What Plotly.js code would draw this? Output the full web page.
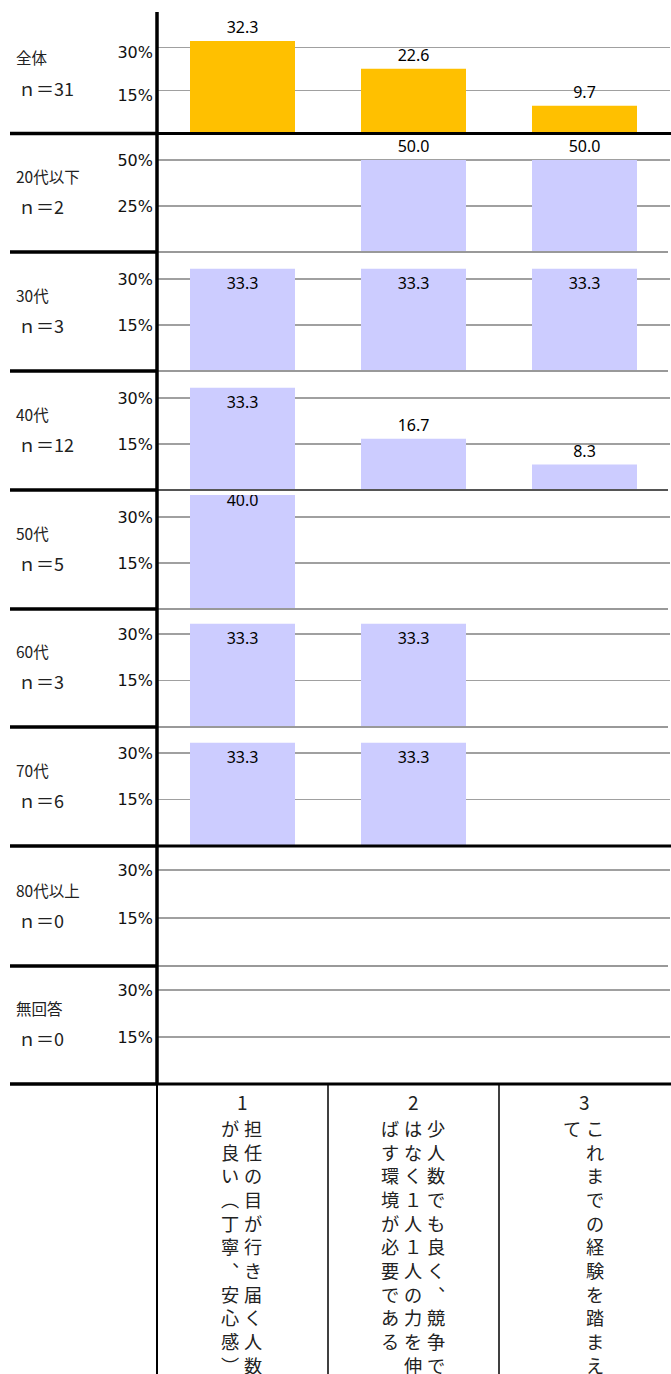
<!DOCTYPE html>
<html><head><meta charset="utf-8">
<script src="https://cdn.plot.ly/plotly-3.0.1.min.js"></script>
<style>html,body{margin:0;padding:0;background:#fff;}</style>
</head><body>
<div id="chart" style="width:671px;height:1374px;"></div>
<script>
// ---------------- data ----------------
const categories = ['1', '2', '3'];
const categoryLabels = [
  '担任の目が行き届く人数が良い（丁寧、安心感）',
  '少人数でも良く、競争ではなく１人１人の力を伸ばす環境が必要である',
  'これまでの経験を踏まえて'
];
const groups = ['全体', '20代以下', '30代', '40代', '50代', '60代', '70代', '80代以上', '無回答'];
const groupN = [31, 2, 3, 12, 5, 3, 6, 0, 0];

const valuesAll   = [32.3, 22.6, 9.7];
const values20s   = [null, 50.0, 50.0];
const values30s   = [33.3, 33.3, 33.3];
const values40s   = [33.3, 16.7, 8.3];
const values50s   = [40.0, null, null];
const values60s   = [33.3, 33.3, null];
const values70s   = [33.3, 33.3, null];
const values80s   = [null, null, null];
const valuesNoAns = [null, null, null];
const seriesValues = [valuesAll, values20s, values30s, values40s, values50s, values60s, values70s, values80s, valuesNoAns];

const tickSets = [[15, 30], [25, 50], [15, 30], [15, 30], [15, 30], [15, 30], [15, 30], [15, 30], [15, 30]];

// ---------------- layout / style ----------------
const W = 671, H = 1374;
const panelBottom = [133.5, 252, 371, 490, 609, 727, 846, 966, 1084];
const panelTop    = [12, 139, 257, 376, 495, 613, 732, 851, 970];
const pxPerPct    = [2.867, 1.84, 3.067, 3.067, 3.067, 3.1, 3.1, 3.2, 3.13];
const tickShift   = [5, 0, 0, 0, 0, 0, 0, 0, 0];
const O = 'outside', I = 'inside';
const textPos = [[O,O,O],[O,O,O],[I,I,I],[I,O,O],[I,I,I],[I,I,I],[I,I,I],[O,O,O],[O,O,O]];
const baseColor = ['#000000', '#999999', '#999999', '#555555', '#999999', '#999999', '#000000', '#999999', '#000000'];
const plotLeft = 157, plotRight = 670;
const py = p => 1 - p / H;
const px = p => p / W;

const traces = [];
const layout = {
  width: W, height: H,
  margin: {l: 0, r: 0, t: 0, b: 0},
  paper_bgcolor: '#ffffff', plot_bgcolor: 'rgba(0,0,0,0)',
  showlegend: false,
  bargap: 0.386,
  font: {family: 'Noto Sans CJK JP', color: '#111'},
  xaxis: {domain: [px(plotLeft), px(plotRight)], type: 'category', categoryorder: 'array',
          categoryarray: categories, range: [-0.5, categories.length - 0.5], autorange: false,
          visible: false, anchor: 'y9', fixedrange: true},
  shapes: [], annotations: []
};

groups.forEach((g, i) => {
  const yName = 'y' + (i === 0 ? '' : (i + 1));
  const axKey = 'yaxis' + (i === 0 ? '' : (i + 1));
  const vals = seriesValues[i];
  traces.push({
    type: 'bar', x: categories, y: vals, xaxis: 'x', yaxis: yName,
    marker: {color: i === 0 ? '#FFC000' : '#CCCCFF', line: {width: 0}},
    text: vals.map(v => (v === null || v === 0) ? '' : v.toFixed(1)),
    textposition: textPos[i],
    insidetextanchor: 'end',
    textfont: {family: 'Noto Sans', size: 16, color: '#000'},
    insidetextfont: {family: 'Noto Sans', size: 16, color: '#000'},
    outsidetextfont: {family: 'Noto Sans', size: 16, color: '#000'},
    constraintext: 'none',
    hoverinfo: 'none'
  });
  layout[axKey] = {
    domain: [py(panelBottom[i]), py(panelTop[i])],
    range: [0, (panelBottom[i] - panelTop[i]) / pxPerPct[i]],
    anchor: 'x',
    tickvals: tickSets[i], ticktext: tickSets[i].map(t => t + '%'),
    ticks: '', ticklabelstandoff: 3, ticklabelshift: tickShift[i],
    tickfont: {family: 'DejaVu Sans', size: 16, color: '#111'},
    showgrid: true, gridcolor: '#a0a0a0', gridwidth: 1.6,
    zeroline: false, showline: false, fixedrange: true
  };
  layout.shapes.push({type: 'line', xref: 'paper', yref: 'paper',
    x0: px(10), x1: px(plotLeft), y0: py(panelBottom[i]), y1: py(panelBottom[i]),
    line: {color: '#000', width: 3.5}});
  const dark = baseColor[i] === '#000000';
  layout.shapes.push({type: 'line', xref: 'paper', yref: 'paper',
    x0: px(plotLeft), x1: dark ? 1 : px(668), y0: py(panelBottom[i]), y1: py(panelBottom[i]),
    line: {color: baseColor[i], width: dark ? 3 : 2}});
  layout.annotations.push({xref: 'paper', yref: 'paper', x: px(14), y: py(panelBottom[i] - 76),
    xanchor: 'left', yanchor: 'middle', showarrow: false, text: g,
    font: {family: 'Noto Sans CJK JP', size: 15.5, color: '#222'}});
  layout.annotations.push({xref: 'paper', yref: 'paper', x: px(16), y: py(panelBottom[i] - 46),
    xanchor: 'left', yanchor: 'middle', showarrow: false, text: 'ｎ＝' + groupN[i],
    font: {family: 'Noto Sans CJK JP', size: 18, color: '#222'}});
});

layout.shapes.push({type: 'line', xref: 'paper', yref: 'paper', x0: px(plotLeft), x1: px(plotLeft),
  y0: py(12), y1: py(1084), line: {color: '#000', width: 3.5}});
layout.shapes.push({type: 'line', xref: 'paper', yref: 'paper', x0: px(plotLeft), x1: px(plotLeft),
  y0: py(1084), y1: 0, line: {color: '#000', width: 2}});
[0.5, 1.5].forEach(xv => layout.shapes.push({type: 'line', xref: 'x', yref: 'paper', x0: xv, x1: xv,
  y0: py(1084), y1: 0, line: {color: '#000', width: 1.5}}));

// category labels (vertical writing)
const vertMap = {'（': '︵', '）': '︶', '、': '︑'};
const perCol = 11, colPitch = 23, charSize = 18.2;
categories.forEach((c, k) => {
  layout.annotations.push({xref: 'x', yref: 'paper', x: k, y: py(1101.5), xshift: 0,
    xanchor: 'center', yanchor: 'middle', showarrow: false, text: c,
    font: {family: 'Noto Sans CJK JP', size: 19, color: '#222'}});
  const chars = Array.from(categoryLabels[k]).map(ch => vertMap[ch] || ch);
  const cols = [];
  for (let s = 0; s < chars.length; s += perCol) cols.push(chars.slice(s, s + perCol));
  const n = cols.length;
  cols.forEach((col, j) => {
    layout.annotations.push({xref: 'x', yref: 'paper', x: k,
      xshift: ((n - 1) / 2 - j) * colPitch - 1,
      y: py(1114), xanchor: 'center', yanchor: 'top', showarrow: false,
      text: col.join('<br>'), align: 'center', borderpad: 0,
      font: {family: 'Noto Sans CJK JP', size: charSize, color: '#222'}});
  });
});

Plotly.newPlot('chart', traces, layout, {staticPlot: true, displayModeBar: false});
</script>
</body></html>
